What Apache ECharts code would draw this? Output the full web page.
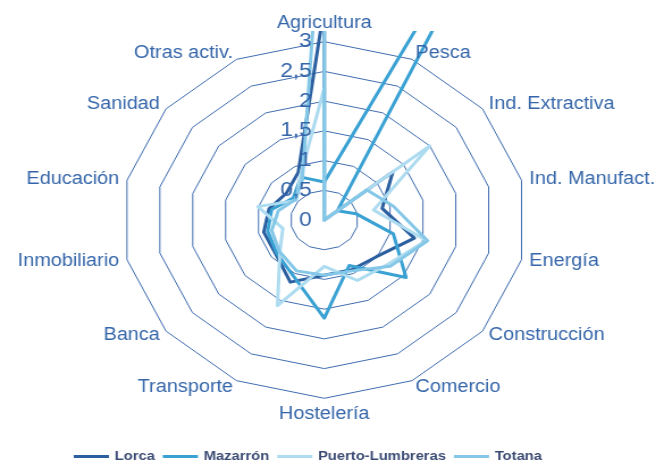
<!DOCTYPE html>
<html>
<head>
<meta charset="utf-8">
<script src="https://cdn.jsdelivr.net/npm/echarts@6/dist/echarts.min.js"></script>
<style>
html, body { margin: 0; padding: 0; background: #fff; overflow: hidden; }
#wrap { width: 657px; height: 462px; overflow: hidden; }
/* the source picture is stretched sideways, so the chart is drawn narrower and widened */
#main { width: 579px; height: 462px; transform: scaleX(1.135); transform-origin: 0 0; }
</style>
</head>
<body>
<div id="wrap"><div id="main"></div></div>
<script>
var sectores = ['Agricultura', 'Pesca', 'Ind. Extractiva', 'Ind. Manufact.', 'Energía', 'Construcción',
	'Comercio', 'Hostelería', 'Transporte', 'Banca', 'Inmobiliario', 'Educación', 'Sanidad', 'Otras activ.'];
var municipios = ['Lorca', 'Mazarrón', 'Puerto-Lumbreras', 'Totana'];

var lorca = [3.58, 0, 1.3, 0.88, 1.37, 0.99, 0.93, 0.93, 1.16, 0.92, 0.92, 0.84, 0.72, 0.89];
var mazarron = [0.64, 8, 0.25, 0.48, 1.05, 1.55, 0.85, 1.65, 1.05, 0.9, 0.86, 0.8, 0.59, 0.8];
var puerto = [2.22, 0, 2.0, 0.75, 1.55, 1.2, 1.13, 0.78, 1.6, 0.84, 0.63, 1.01, 0.53, 0.82];
var totana = [6.0, 0, 0.81, 1.05, 1.57, 1.25, 0.95, 0.93, 0.95, 0.85, 0.8, 0.7, 0.55, 0.75];

var colores = ['#2C5FA0', '#3AA1D3', '#ADDBF0', '#84C7E7'];
var azul = '#3566A9';

var chart = echarts.init(document.getElementById('main'));

// echarts goes round anticlockwise, the original goes clockwise: keep the first, reverse the rest
function horario(arr) {
	var out = [arr[0]];
	for (var i = arr.length - 1; i > 0; i--) out.push(arr[i]);
	return out;
}

function indicadores(conEtiqueta) {
	var nombres = horario(sectores);
	var list = [];
	for (var i = 0; i < nombres.length; i++) {
		var ind = { name: nombres[i], min: 0, max: 3 };
		if (conEtiqueta && i == 0) {
			ind.axisLabel = { show: true };
		}
		list.push(ind);
	}
	return list;
}

var center = [285.7, 220];
var radio = 178.3;

var option = {
	animation: false,
	color: colores,
	legend: {
		left: 60,
		top: 445,
		icon: 'rect',
		itemWidth: 31,
		itemHeight: 3,
		itemGap: 7,
		textStyle: {
			fontFamily: 'Liberation Sans, Arial, sans-serif',
			fontSize: 13,
			fontWeight: 'bold',
			color: '#3A4A73'
		},
		data: municipios
	},
	graphic: [{
		type: 'rect',
		z: 5,
		shape: { x: 0, y: 0, width: 579, height: 31 },
		style: { fill: '#fff' }
	}],
	radar: [{
		// nombres y etiquetas, por encima de todo
		z: 10,
		center: center,
		radius: radio,
		startAngle: 90,
		shape: 'polygon',
		splitNumber: 6,
		indicator: indicadores(true),
		axisName: {
			color: azul,
			fontSize: 17.5,
			fontFamily: 'Liberation Sans, Arial, sans-serif'
		},
		nameGap: 7,
		axisLine: { show: false },
		axisTick: { show: false },
		splitLine: { show: false },
		splitArea: { show: false },
		axisLabel: {
			show: false,
			color: azul,
			fontSize: 20,
			margin: 11,
			fontFamily: 'Liberation Sans, Arial, sans-serif',
			formatter: function(v) {
				return String(v).replace('.', ',');
			}
		}
	}, {
		// anillos
		z: 0,
		center: center,
		radius: radio,
		startAngle: 90,
		shape: 'polygon',
		splitNumber: 6,
		indicator: indicadores(false),
		axisName: { show: false },
		axisLine: { show: false },
		axisTick: { show: false },
		axisLabel: { show: false },
		splitArea: { show: false },
		splitLine: {
			lineStyle: { color: '#3E6CAF', width: 1 }
		}
	}],
	series: [{
		type: 'radar',
		radarIndex: 1,
		z: 2,
		symbol: 'none',
		lineStyle: { width: 3 },
		data: [
			{ name: 'Lorca', value: horario(lorca), lineStyle: { color: colores[0], width: 3 } },
			{ name: 'Mazarrón', value: horario(mazarron), lineStyle: { color: colores[1], width: 3 } },
			{ name: 'Puerto-Lumbreras', value: horario(puerto), lineStyle: { color: colores[2], width: 3 } },
			{ name: 'Totana', value: horario(totana), lineStyle: { color: colores[3], width: 3 } }
		]
	}]
};
chart.setOption(option);
</script>
</body>
</html>
